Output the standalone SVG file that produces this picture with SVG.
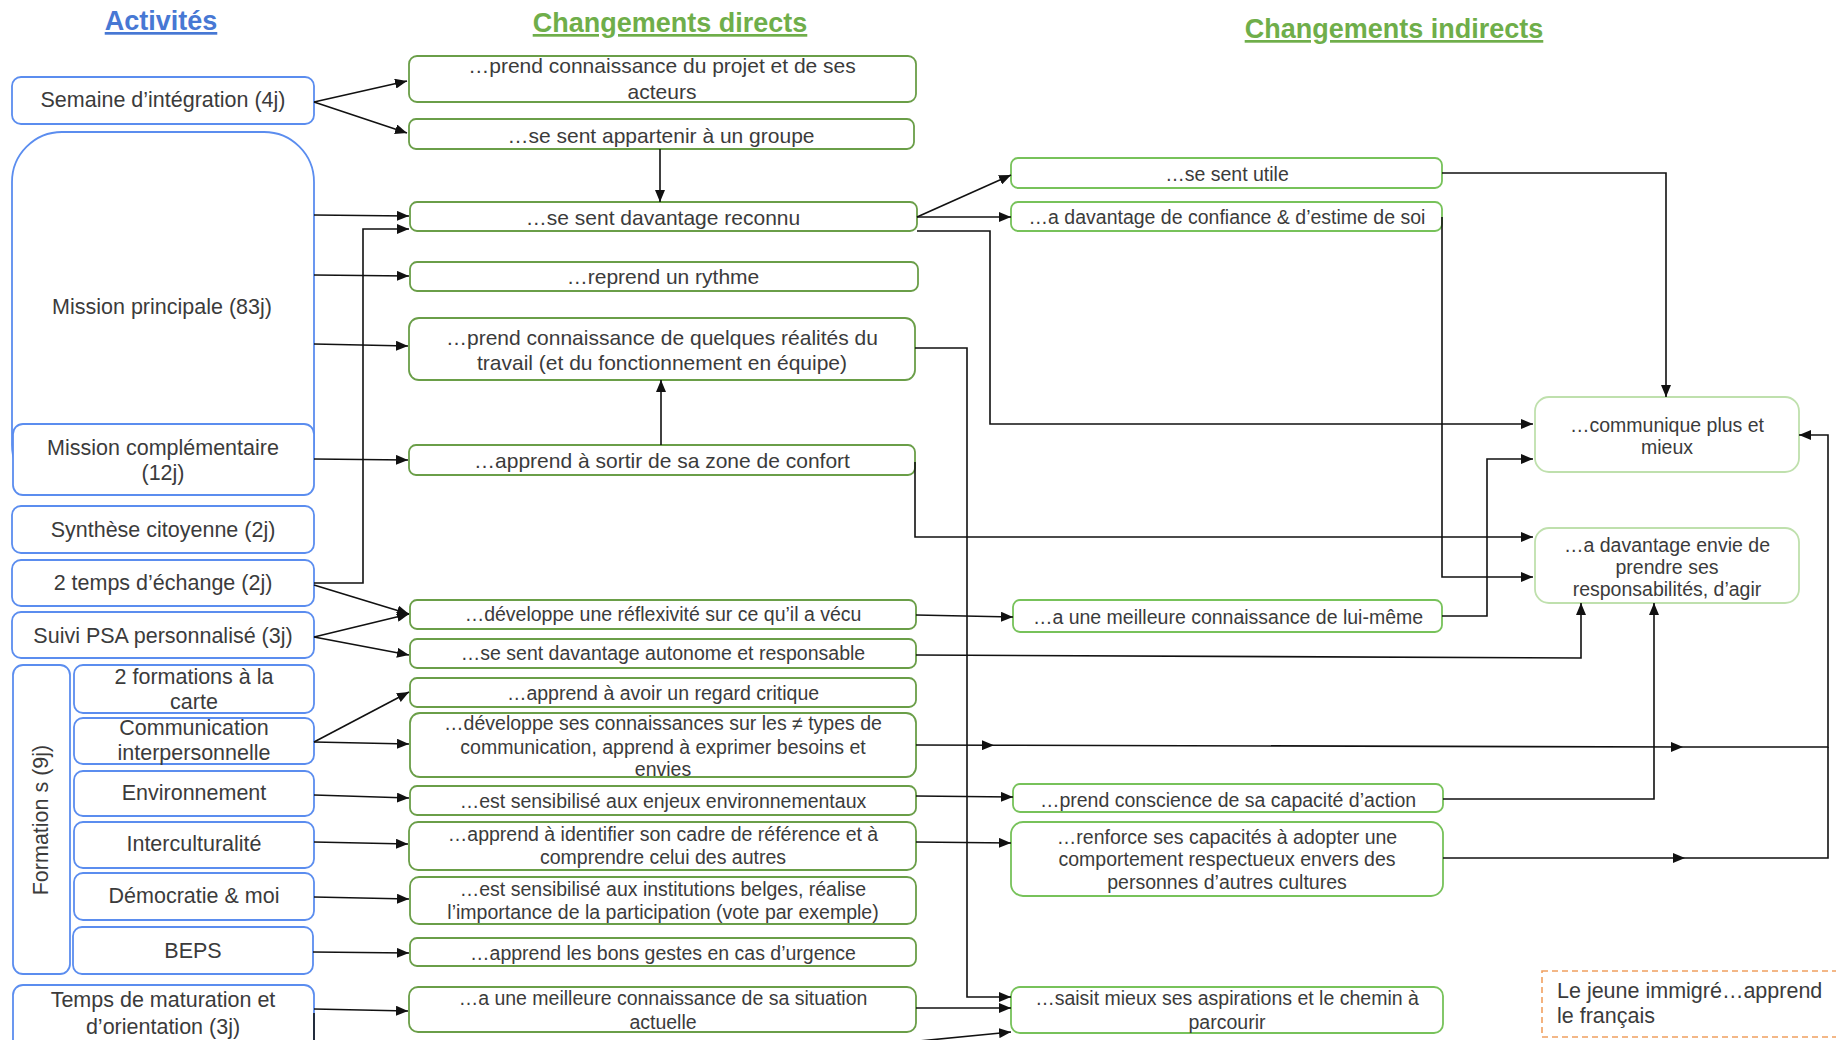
<svg xmlns="http://www.w3.org/2000/svg" width="1836" height="1040" viewBox="0 0 1836 1040">
  <defs>
    <marker id="arr" markerUnits="userSpaceOnUse" markerWidth="12" markerHeight="10" refX="12" refY="5" orient="auto">
      <path d="M0,0 L12,5 L0,10 Z" fill="#111"/>
    </marker>
  </defs>
  <style>
    text { font-family: "Liberation Sans", Arial, sans-serif; fill: #3b3b3b; }
    .t { text-anchor: middle; dominant-baseline: central; }
    .act { font-size: 21.5px; }
    .dir { font-size: 21px; }
    .sm { font-size: 19.5px; }
    .title { font-size: 27px; font-weight: bold; text-anchor: middle; text-decoration: underline; }
    .blue { fill: #4778d4; }
    .green { fill: #6fae4a; }
    .ab { fill: #fff; stroke: #5b8def; stroke-width: 1.8; }
    .db { fill: #fff; stroke: #6a9e48; stroke-width: 1.8; }
    .ib { fill: #fff; stroke: #77c25a; stroke-width: 1.8; }
    .fb { fill: #fff; stroke: #bfe0ad; stroke-width: 1.8; }
    .note { fill: #fff; stroke: #f0a060; stroke-width: 1.6; stroke-dasharray: 6 4; }
    .c path { fill: none; stroke: #111; stroke-width: 1.6; }
    .c .a { marker-end: url(#arr); }
  </style>

  <!-- column headings -->
  <text class="title blue" x="161" y="30">Activités</text>
  <text class="title green" x="670" y="32">Changements directs</text>
  <text class="title green" x="1394" y="38">Changements indirects</text>

  <!-- activities -->
  <g id="semaine"><rect class="ab" x="12" y="77" width="302" height="47" rx="9"/><text class="t act" x="163" y="100">Semaine d’intégration (4j)</text></g>
  <g id="mission-principale"><rect class="ab" x="12" y="132" width="302" height="363" rx="50"/><text class="t act" x="162" y="307">Mission principale (83j)</text></g>
  <g id="mission-complementaire"><rect class="ab" x="13" y="424" width="301" height="71" rx="10"/><text class="t act" x="163" y="448">Mission complémentaire</text><text class="t act" x="163" y="473">(12j)</text></g>
  <g id="synthese"><rect class="ab" x="12" y="506" width="302" height="47" rx="9"/><text class="t act" x="163" y="530">Synthèse citoyenne (2j)</text></g>
  <g id="temps-echange"><rect class="ab" x="12" y="560" width="302" height="46" rx="9"/><text class="t act" x="163" y="583">2 temps d’échange (2j)</text></g>
  <g id="suivi-psa"><rect class="ab" x="12" y="612" width="302" height="46" rx="9"/><text class="t act" x="163" y="636">Suivi PSA personnalisé (3j)</text></g>
  <g id="formations"><rect class="ab" x="13" y="665" width="57" height="309" rx="10"/><text class="t act" x="41" y="820" transform="rotate(-90 41 820)">Formation s (9j)</text></g>
  <g id="formation-carte"><rect class="ab" x="74" y="665" width="240" height="48" rx="9"/><text class="t act" x="194" y="677">2 formations à la</text><text class="t act" x="194" y="702">carte</text></g>
  <g id="formation-communication"><rect class="ab" x="74" y="718" width="240" height="46" rx="9"/><text class="t act" x="194" y="728">Communication</text><text class="t act" x="194" y="753">interpersonnelle</text></g>
  <g id="formation-environnement"><rect class="ab" x="74" y="771" width="240" height="45" rx="9"/><text class="t act" x="194" y="793">Environnement</text></g>
  <g id="formation-interculturalite"><rect class="ab" x="74" y="822" width="240" height="46" rx="9"/><text class="t act" x="194" y="844">Interculturalité</text></g>
  <g id="formation-democratie"><rect class="ab" x="74" y="873" width="240" height="47" rx="9"/><text class="t act" x="194" y="896">Démocratie &amp; moi</text></g>
  <g id="formation-beps"><rect class="ab" x="73" y="927" width="240" height="47" rx="9"/><text class="t act" x="193" y="951">BEPS</text></g>
  <g id="maturation"><rect class="ab" x="13" y="985" width="301" height="70" rx="10"/><text class="t act" x="163" y="1000">Temps de maturation et</text><text class="t act" x="163" y="1027">d’orientation (3j)</text></g>

  <!-- direct changes -->
  <g id="d-projet"><rect class="db" x="409" y="56" width="507" height="46" rx="8"/><text class="t dir" x="662" y="65">…prend connaissance du projet et de ses</text><text class="t dir" x="662" y="91">acteurs</text></g>
  <g id="d-groupe"><rect class="db" x="409" y="119" width="505" height="30" rx="7"/><text class="t dir" x="661" y="135">…se sent appartenir à un groupe</text></g>
  <g id="d-reconnu"><rect class="db" x="410" y="202" width="507" height="29" rx="7"/><text class="t dir" x="663" y="217">…se sent davantage reconnu</text></g>
  <g id="d-rythme"><rect class="db" x="410" y="262" width="508" height="29" rx="7"/><text class="t dir" x="663" y="276">…reprend un rythme</text></g>
  <g id="d-travail"><rect class="db" x="409" y="318" width="506" height="62" rx="10"/><text class="t dir" x="662" y="337">…prend connaissance de quelques réalités du</text><text class="t dir" x="662" y="362">travail (et du fonctionnement en équipe)</text></g>
  <g id="d-confort"><rect class="db" x="409" y="445" width="506" height="30" rx="7"/><text class="t dir" x="662" y="460">…apprend à sortir de sa zone de confort</text></g>
  <g id="d-reflexivite"><rect class="db" x="410" y="600" width="506" height="29" rx="7"/><text class="t sm" x="663" y="614">…développe une réflexivité sur ce qu’il a vécu</text></g>
  <g id="d-autonome"><rect class="db" x="410" y="639" width="506" height="29" rx="7"/><text class="t sm" x="663" y="653">…se sent davantage autonome et responsable</text></g>
  <g id="d-critique"><rect class="db" x="410" y="678" width="506" height="29" rx="7"/><text class="t sm" x="663" y="693">…apprend à avoir un regard critique</text></g>
  <g id="d-communication"><rect class="db" x="410" y="713" width="506" height="64" rx="10"/><text class="t sm" x="663" y="723">…développe ses connaissances sur les ≠ types de</text><text class="t sm" x="663" y="747">communication, apprend à exprimer besoins et</text><text class="t sm" x="663" y="769">envies</text></g>
  <g id="d-environnement"><rect class="db" x="410" y="786" width="506" height="29" rx="7"/><text class="t sm" x="663" y="801">…est sensibilisé aux enjeux environnementaux</text></g>
  <g id="d-reference"><rect class="db" x="409" y="822" width="507" height="48" rx="9"/><text class="t sm" x="663" y="834">…apprend à identifier son cadre de référence et à</text><text class="t sm" x="663" y="857">comprendre celui des autres</text></g>
  <g id="d-institutions"><rect class="db" x="410" y="877" width="506" height="47" rx="9"/><text class="t sm" x="663" y="889">…est sensibilisé aux institutions belges, réalise</text><text class="t sm" x="663" y="912">l’importance de la participation (vote par exemple)</text></g>
  <g id="d-urgence"><rect class="db" x="410" y="938" width="506" height="28" rx="7"/><text class="t sm" x="663" y="953">…apprend les bons gestes en cas d’urgence</text></g>
  <g id="d-situation"><rect class="db" x="409" y="987" width="507" height="45" rx="9"/><text class="t sm" x="663" y="998">…a une meilleure connaissance de sa situation</text><text class="t sm" x="663" y="1022">actuelle</text></g>

  <!-- indirect changes -->
  <g id="i-utile"><rect class="ib" x="1011" y="158" width="431" height="30" rx="7"/><text class="t sm" x="1227" y="174">…se sent utile</text></g>
  <g id="i-confiance"><rect class="ib" x="1011" y="202" width="431" height="29" rx="7"/><text class="t sm" x="1227" y="217">…a davantage de confiance &amp; d’estime de soi</text></g>
  <g id="i-soi"><rect class="ib" x="1013" y="600" width="429" height="32" rx="7"/><text class="t sm" x="1228" y="617">…a une meilleure connaissance de lui-même</text></g>
  <g id="i-action"><rect class="ib" x="1013" y="784" width="430" height="28" rx="7"/><text class="t sm" x="1228" y="800">…prend conscience de sa capacité d’action</text></g>
  <g id="i-respect"><rect class="ib" x="1011" y="822" width="432" height="74" rx="12"/><text class="t sm" x="1227" y="837">…renforce ses capacités à adopter une</text><text class="t sm" x="1227" y="859">comportement respectueux envers des</text><text class="t sm" x="1227" y="882">personnes d’autres cultures</text></g>
  <g id="i-aspirations"><rect class="ib" x="1011" y="987" width="432" height="46" rx="9"/><text class="t sm" x="1227" y="998">…saisit mieux ses aspirations et le chemin à</text><text class="t sm" x="1227" y="1022">parcourir</text></g>
  <g id="f-communique"><rect class="fb" x="1535" y="397" width="264" height="75" rx="14"/><text class="t sm" x="1667" y="425">…communique plus et</text><text class="t sm" x="1667" y="447">mieux</text></g>
  <g id="f-responsabilites"><rect class="fb" x="1535" y="528" width="264" height="75" rx="14"/><text class="t sm" x="1667" y="545">…a davantage envie de</text><text class="t sm" x="1667" y="567">prendre ses</text><text class="t sm" x="1667" y="589">responsabilités, d’agir</text></g>

  <!-- side note -->
  <g id="note"><rect class="note" x="1542" y="971" width="300" height="66"/><text class="act" x="1557" y="998">Le jeune immigré…apprend</text><text class="act" x="1557" y="1023">le français</text></g>

  <!-- connectors -->
  <g id="connectors" class="c">
    <path class="a" d="M314,102 L407,81"/>
    <path class="a" d="M314,102 L407,133"/>
    <path class="a" d="M660,149 L660,202"/>
    <path class="a" d="M314,215 L409,216"/>
    <path class="a" d="M314,583 L363,583 L363,229 L409,229"/>
    <path class="a" d="M314,275 L409,276"/>
    <path class="a" d="M314,344 L408,346"/>
    <path class="a" d="M314,459 L408,460"/>
    <path class="a" d="M661,445 L661,380"/>
    <path class="a" d="M314,585 L409,614"/>
    <path class="a" d="M314,637 L409,614"/>
    <path class="a" d="M314,637 L409,655"/>
    <path class="a" d="M314,742 L409,692"/>
    <path class="a" d="M314,742 L409,744"/>
    <path class="a" d="M314,795 L409,798"/>
    <path class="a" d="M314,842 L408,844"/>
    <path class="a" d="M314,897 L409,899"/>
    <path class="a" d="M313,952 L409,953"/>
    <path class="a" d="M314,1009 L408,1011"/>
    <path d="M314,1013 L314,1040"/>

    <path class="a" d="M917,217 L1011,175"/>
    <path class="a" d="M917,217 L1011,217"/>
    <path class="a" d="M917,231 L990,231 L990,424 L1533,424"/>
    <path class="a" d="M915,348 L967,348 L967,997 L1011,997"/>
    <path class="a" d="M915,462 L915,537 L1533,537"/>
    <path class="a" d="M916,615 L1013,617"/>
    <path class="a" d="M916,655 L1581,658 L1581,603"/>
    <path class="a" d="M916,745 L994,745.2"/>
    <path class="a" d="M994,745.2 L1683,747"/>
    <path class="a" d="M1683,747 L1828,747 L1828,435 L1799,435"/>
    <path class="a" d="M916,796 L1013,797"/>
    <path class="a" d="M916,842 L1011,843"/>
    <path class="a" d="M916,1008 L1011,1008"/>
    <path class="a" d="M919,1041 L1011,1032"/>

    <path class="a" d="M1442,173 L1666,173 L1666,397"/>
    <path class="a" d="M1442,217 L1442,577 L1533,577"/>
    <path class="a" d="M1442,616 L1487,616 L1487,459 L1533,459"/>
    <path class="a" d="M1443,799 L1654,799 L1654,603"/>
    <path class="a" d="M1443,858 L1685,858"/>
    <path d="M1685,858 L1828,858 L1828,747"/>
  </g>
</svg>
